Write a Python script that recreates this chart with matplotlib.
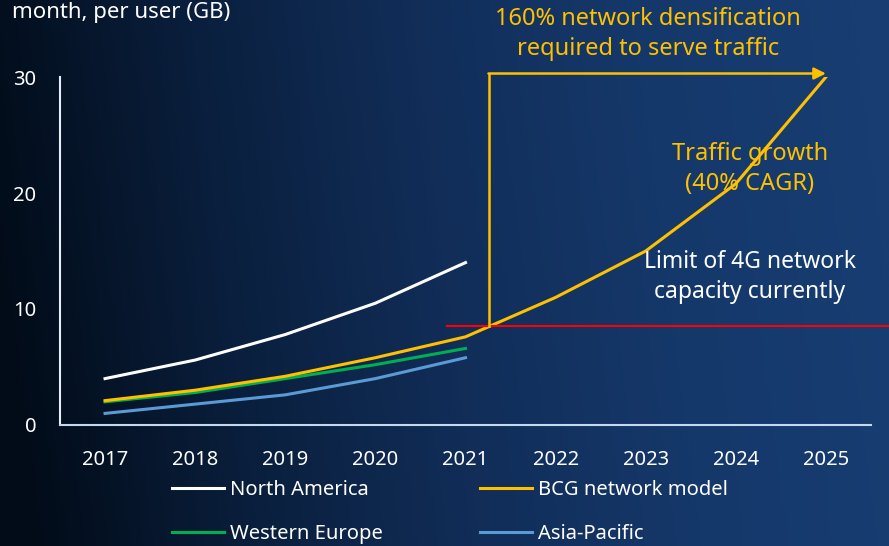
import numpy as np
import matplotlib
matplotlib.use("Agg")
import matplotlib.pyplot as plt
from matplotlib.colors import LinearSegmentedColormap

plt.rcParams['font.family'] = ['Noto Sans', 'DejaVu Sans']

years_hist = [2017, 2018, 2019, 2020, 2021]
years_all = [2017, 2018, 2019, 2020, 2021, 2022, 2023, 2024, 2025]
north_america = [4.0, 5.6, 7.8, 10.5, 14.0]
western_europe = [2.0, 2.8, 4.0, 5.2, 6.6]
asia_pacific = [1.0, 1.8, 2.6, 4.0, 5.8]
bcg_model = [2.1, 3.0, 4.2, 5.8, 7.6, 11.0, 15.0, 20.8, 30.0]
capacity_limit = 8.5
limit_start_year = 2020.8
arrow_level = 30.3

YELLOW = '#ffc000'
fig = plt.figure(figsize=(8.89, 5.46), dpi=100)

# background gradient
bg = fig.add_axes([0, 0, 1, 1], zorder=-10)
cmap = LinearSegmentedColormap.from_list('bg', ['#020c19', '#0a1f3d', '#112d58', '#15386a', '#173d72'])
gx = np.linspace(0, 1, 400)
gy = np.linspace(0, 1, 200)
GX, GY = np.meshgrid(gx, gy)
grad = np.clip(GX * 1.0 + (1 - GY) * 0.08 - 0.04, 0, 1)
bg.imshow(grad, cmap=cmap, aspect='auto', extent=[0, 1, 0, 1], origin='upper')
bg.axis('off')

ax = fig.add_axes([60/889, 1-425/546, 811/889, (425-77)/546])
ax.patch.set_alpha(0)

h_na, = ax.plot(years_hist, north_america, color='white', lw=2.2, label='North America')
h_bcg, = ax.plot(years_all, bcg_model, color=YELLOW, lw=2.2, label='BCG network model', zorder=4)
h_we, = ax.plot(years_hist, western_europe, color='#00b050', lw=2.2, label='Western Europe', zorder=3)
h_ap, = ax.plot(years_hist, asia_pacific, color='#5b9bd5', lw=2.2, label='Asia-Pacific')

# capacity limit line
x0_frac = (limit_start_year - 2016.5) / 9.0
ax.axhline(capacity_limit, xmin=x0_frac, xmax=1.03, color='#ff0000', lw=1.5, clip_on=False, zorder=5)

# crossing point of model with limit
yrs = np.array(years_all, dtype=float)
vals = np.array(bcg_model)
i = np.where(vals > capacity_limit)[0][0]
x_cross = yrs[i-1] + (capacity_limit - vals[i-1]) / (vals[i] - vals[i-1])
ax.plot([x_cross, x_cross], [capacity_limit, arrow_level], color=YELLOW, lw=1.8, clip_on=False, zorder=5)
ax.annotate('', xy=(years_all[-1], arrow_level), xytext=(x_cross - 0.01, arrow_level),
            arrowprops=dict(arrowstyle='-|>,head_length=0.7,head_width=0.35', color=YELLOW, lw=1.8,
                            shrinkA=0, shrinkB=0), annotation_clip=False, zorder=6)

ax.set_xlim(2016.5, 2025.5)
ax.set_ylim(0, 30)
ax.set_xticks(years_all)
ax.set_yticks([0, 10, 20, 30])
ax.tick_params(length=0, labelsize=14.5, colors='white')
ax.tick_params(axis='x', pad=18)
ax.tick_params(axis='y', pad=17)
for s in ['top', 'right']:
    ax.spines[s].set_visible(False)
ax.spines['left'].set_color('#e8eef6')
ax.spines['left'].set_linewidth(1.5)
ax.spines['bottom'].set_color('#c4d9ef')
ax.spines['bottom'].set_linewidth(1.5)

handles = [h_na, h_we, h_bcg, h_ap]
leg = ax.legend(handles=handles, labels=[h.get_label() for h in handles],
                loc='upper left', bbox_to_anchor=(112/811, -0.157), ncol=2, frameon=False,
                fontsize=14.5, labelcolor='white', handlelength=2.6, handletextpad=0.3,
                columnspacing=4.8, labelspacing=1.2, borderaxespad=0, borderpad=0)

fig.text(648/889, 1-34/546, '160% network densification\nrequired to serve traffic', color=YELLOW,
         fontsize=17, ha='center', va='center', linespacing=1.3)
fig.text(750/889, 1-169/546, 'Traffic growth\n(40% CAGR)', color=YELLOW,
         fontsize=17, ha='center', va='center', linespacing=1.3)
fig.text(750/889, 1-277/546, 'Limit of 4G network\ncapacity currently', color='white',
         fontsize=16.5, ha='center', va='center', linespacing=1.3)
fig.text(12/889, 1-18/546, 'month, per user (GB)', color='white', fontsize=16, ha='left', va='baseline')

fig.savefig('out.png', dpi=100)
